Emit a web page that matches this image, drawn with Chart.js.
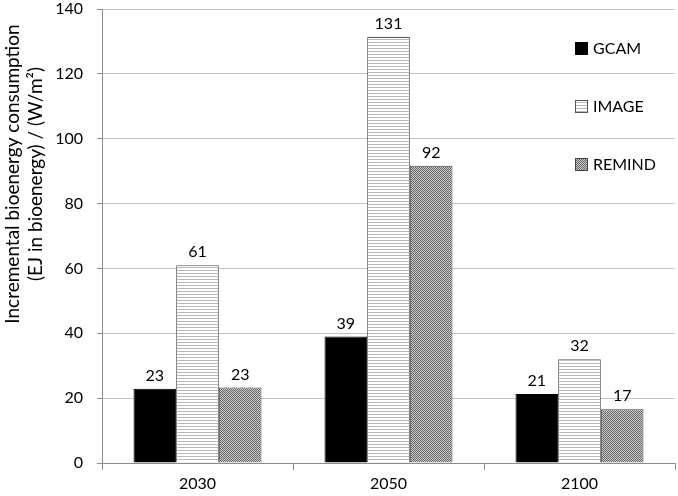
<html>
<script src="https://cdnjs.cloudflare.com/ajax/libs/Chart.js/4.4.1/chart.umd.min.js"></script>

<style>
  body { margin: 0; background: white; }
  canvas { display: block; }
</style>

<body>
  <canvas id="bioChart" width="678" height="496"></canvas>
</body>

<script>
  // values
  var years = ["2030", "2050", "2100"];
  var gcamValues = [22.9, 39.0, 21.3];
  var imageValues = [61.0, 131.4, 32.0];
  var remindValues = [23.3, 91.7, 16.6];
  var yTicks = [0, 20, 40, 60, 80, 100, 120, 140];
  var modelNames = ["GCAM", "IMAGE", "REMIND"];
  var yTitle = ["Incremental bioenergy consumption", "(EJ in bioenergy) / (W/m\u00B2)"];

  var fontName = "Lato, 'Open Sans', sans-serif";

  // hatch patterns like the excel fills
  function makeLinePattern()
  {
    var c = document.createElement("canvas");
    c.width = 4; c.height = 3;
    var x = c.getContext("2d");
    x.fillStyle = "white";
    x.fillRect(0, 0, 4, 3);
    x.fillStyle = "#b8b8b8";
    x.fillRect(0, 0, 4, 1);
    return x.createPattern(c, "repeat");
  }

  function makeDotPattern()
  {
    var c = document.createElement("canvas");
    c.width = 2; c.height = 2;
    var x = c.getContext("2d");
    x.fillStyle = "#c8c8c8";
    x.fillRect(0, 0, 2, 2);
    x.fillStyle = "#6a6a6a";
    x.fillRect(0, 0, 1, 1);
    x.fillRect(1, 1, 1, 1);
    return x.createPattern(c, "repeat");
  }

  var linePattern = makeLinePattern();
  var dotPattern = makeDotPattern();

  var fills = ["#000000", linePattern, dotPattern];
  var borders = ["#000000", "#555555", "#444444"];

  // numbers over the bars
  var barLabels = {
    id: "barLabels",
    afterDatasetsDraw: function(chart)
    {
      var ctx = chart.ctx;
      ctx.save();
      ctx.font = "16px " + fontName;
      ctx.fillStyle = "#000";
      ctx.textAlign = "center";
      ctx.textBaseline = "bottom";
      chart.data.datasets.forEach(function(ds, i) {
        var meta = chart.getDatasetMeta(i);
        meta.data.forEach(function(bar, j) {
          ctx.fillText(Math.round(ds.data[j]), bar.x, bar.y - 5);
        });
      });
      ctx.restore();
    }
  };

  // legend sits inside the plot on the right
  var sideLegend = {
    id: "sideLegend",
    afterDraw: function(chart)
    {
      var ctx = chart.ctx;
      var rows = [48, 106, 164];
      ctx.save();
      ctx.font = "16px " + fontName;
      ctx.textBaseline = "middle";
      ctx.textAlign = "left";
      for (var i = 0; i < modelNames.length; i++)
      {
        ctx.fillStyle = fills[i];
        ctx.fillRect(575, rows[i] - 6, 13, 13);
        ctx.strokeStyle = borders[i];
        ctx.lineWidth = 1;
        ctx.strokeRect(575.5, rows[i] - 5.5, 12, 12);
        ctx.fillStyle = "#000";
        ctx.fillText(modelNames[i], 593, rows[i] + 1);
      }
      ctx.restore();
    }
  };

  // y title sits higher than the middle of the axis, so draw it by hand
  var sideTitle = {
    id: "sideTitle",
    afterDraw: function(chart)
    {
      var ctx = chart.ctx;
      ctx.save();
      ctx.translate(0, 174);
      ctx.rotate(-Math.PI / 2);
      ctx.font = "19px " + fontName;
      ctx.fillStyle = "#000";
      ctx.textAlign = "center";
      ctx.textBaseline = "middle";
      ctx.fillText(yTitle[0], 0, 13);
      ctx.fillText(yTitle[1], 0, 36);
      ctx.restore();
    }
  };

  var datasets = [gcamValues, imageValues, remindValues].map(function(vals, i) {
    return {
      label: modelNames[i],
      data: vals,
      backgroundColor: fills[i],
      borderColor: borders[i],
      borderWidth: 1,
      borderSkipped: "bottom",
      categoryPercentage: 0.67,
      barPercentage: 1.0
    };
  });

  var bioChart = new Chart(document.getElementById("bioChart"), {
    type: "bar",
    data: {
      labels: years,
      datasets: datasets
    },
    options: {
      responsive: false,
      animation: false,
      layout: { padding: { top: 9, right: 3, left: 0, bottom: 0 } },
      plugins: {
        legend: { display: false },
        tooltip: { enabled: false }
      },
      scales: {
        x: {
          grid: {
            display: true,
            drawOnChartArea: false,
            offset: true,
            tickLength: 7,
            color: "#8c8c8c"
          },
          border: { color: "#8c8c8c" },
          ticks: {
            color: "#000",
            font: { family: fontName, size: 16 },
            padding: 4
          },
          afterFit: function(s) { s.height = 33; s.paddingLeft = 0; s.paddingRight = 0; }
        },
        y: {
          min: 0,
          max: 140,
          afterBuildTicks: function(s) {
            s.ticks = yTicks.map(function(v) { return { value: v }; });
          },
          grid: {
            color: "#c4c4c4",
            tickColor: "#8c8c8c",
            tickLength: 5
          },
          border: { color: "#8c8c8c" },
          ticks: {
            color: "#000",
            font: { family: fontName, size: 16 },
            padding: 14
          },
          afterFit: function(s) { s.width = 102; s.paddingTop = 0; s.paddingBottom = 0; }
        }
      }
    },
    plugins: [barLabels, sideLegend, sideTitle]
  });
</script>

</html>
